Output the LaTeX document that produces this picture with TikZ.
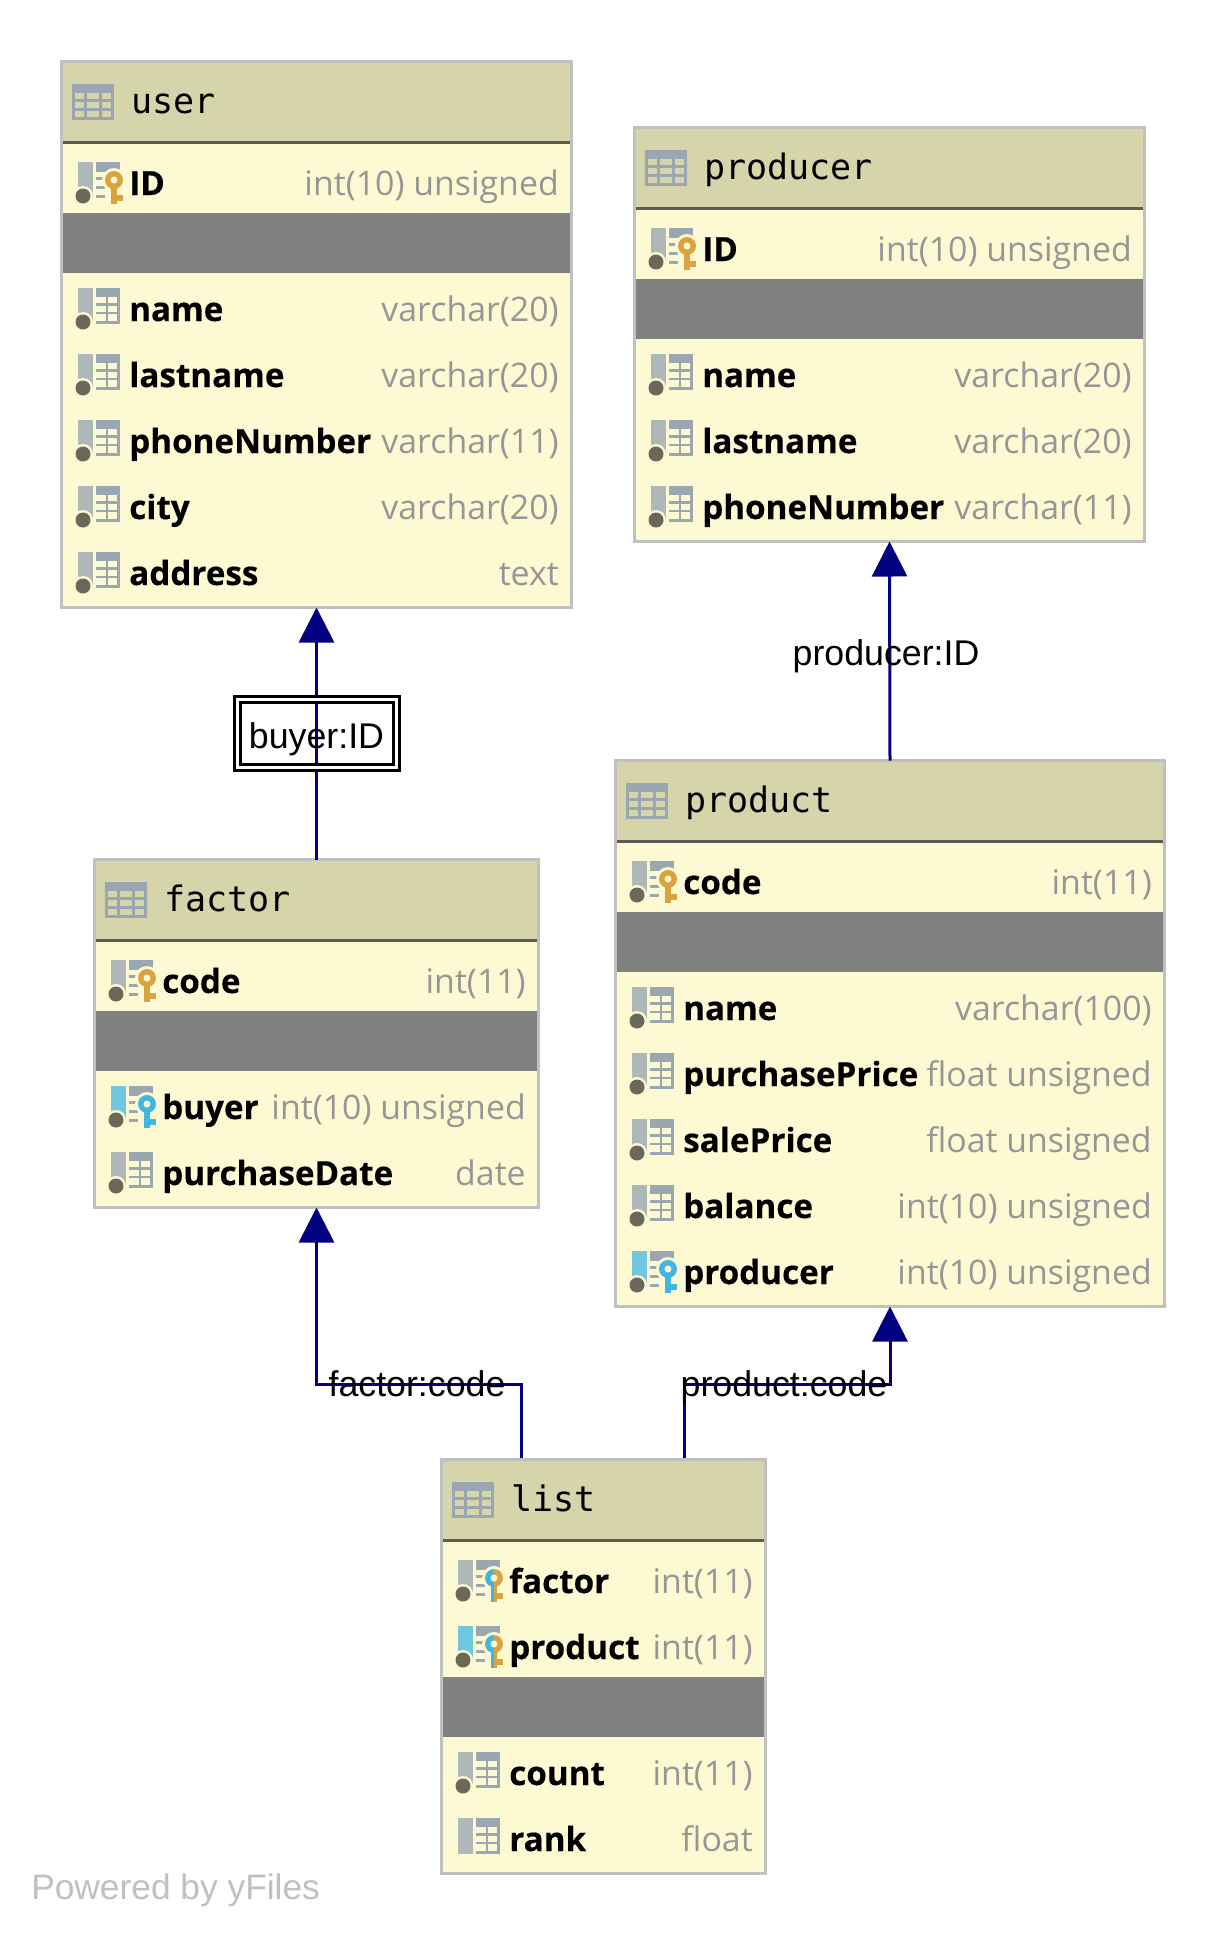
\documentclass[tikz,border=0pt]{standalone}
\usepackage{fontspec}
\setmainfont{Open Sans}
\newfontfamily\fname[BoldFeatures={FakeBold=0.35}]{Open Sans}
\newfontfamily\flabel{Liberation Sans}
\newfontfamily\ftitle{DejaVu Sans Mono}
\definecolor{cream}{RGB}{253,250,211}
\definecolor{headc}{RGB}{214,212,170}
\definecolor{edgec}{RGB}{192,192,192}
\definecolor{divc}{RGB}{92,92,82}
\definecolor{bandc}{RGB}{128,128,128}
\definecolor{iconc}{RGB}{155,167,176}
\definecolor{barc}{RGB}{174,184,184}
\definecolor{barf}{RGB}{112,200,222}
\definecolor{dotc}{RGB}{107,103,90}
\definecolor{goldc}{RGB}{219,163,63}
\definecolor{bluec}{RGB}{64,182,224}
\definecolor{typec}{RGB}{150,150,150}
\definecolor{navyc}{RGB}{0,0,128}
\definecolor{wmc}{RGB}{192,192,192}
\newcommand{\pxs}{0.75pt}
\usetikzlibrary{arrows.meta}
\tikzset{
  x=0.75pt,y=-0.75pt,
  tablebox/.style={draw=edgec,fill=cream,line width=3*\pxs,rectangle,inner sep=0pt,outer sep=0pt},
  titletext/.style={font=\ftitle\fontsize{26.25}{30}\selectfont,anchor=base west,inner sep=0pt,text=black},
  nametext/.style={font=\fname\bfseries\fontsize{24.9}{28}\selectfont,anchor=base west,inner sep=0pt,text=black},
  typetext/.style={font=\fname\fontsize{25.4}{28}\selectfont,anchor=base east,inner sep=0pt,text=typec},
  conn/.style={draw=navyc,line width=3*\pxs},
  connarrow/.style={conn,-{Triangle[length=35*\pxs,width=35*\pxs]}},
  linklabel/.style={font=\flabel\fontsize{26.8}{30}\selectfont,text=black,inner sep=0pt,text height=21.75pt,text depth=0pt},
  boxedlabel/.style={linklabel,draw=black,double=white,line width=3*\pxs,double distance=3*\pxs,minimum width=159*\pxs,minimum height=68*\pxs},
}
% table frame: name, left, right, top, bottom, title
\newcommand{\tableframe}[6]{%
  \def\TL{#2}\def\TR{#3}\def\TT{#4}\def\TB{#5}%
  \pgfmathsetmacro{\bw}{#3-#2-3}\pgfmathsetmacro{\bh}{#5-#4-3}%
  \node[tablebox,minimum width=\bw*\pxs,minimum height=\bh*\pxs] (#1) at ({(#2+#3)/2},{(#4+#5)/2}) {};
  \fill[headc] (#2+3,#4+3) rectangle (#3-3,#4+81);
  \fill[divc] (#2+3,#4+81) rectangle (#3-3,#4+84);
  % table icon
  \fill[iconc] (#2+12,#4+24) rectangle (#2+54,#4+60);
  \foreach \ya/\yb in {9/15,18/24,27/33}{
    \foreach \xa/\xb in {3/12,15/27,30/39}{
      \fill[headc] (#2+12+\xa,#4+24+\ya) rectangle (#2+12+\xb,#4+24+\yb);
    }
  }
  \node[titletext] (#1title) at (#2+71,#4+53.5) {#6};
}
\newcommand{\bandat}[1]{\fill[bandc] (\TL+3,#1) rectangle (\TR-3,#1+60);}
% column bar and dot: cy, colour, withdot(1/0)
\newcommand{\colbar}[3]{%
  \fill[#2] (\TL+18,#1-18) rectangle (\TL+33,#1+18);
  \ifnum#3=1
    \fill[cream] (\TL+23,#1+16) circle (10);
    \fill[dotc] (\TL+23,#1+16) circle (7.5);
  \fi
}
\newcommand{\gridglyph}[1]{%
  \fill[iconc] (\TL+36,#1-18) rectangle (\TL+60,#1+18);
  \foreach \ya/\yb in {-9/-3,0/6,8/14.5}{
    \fill[cream] (\TL+36,#1+\ya) rectangle (\TL+45.5,#1+\yb);
    \fill[cream] (\TL+48,#1+\ya) rectangle (\TL+57,#1+\yb);
  }
}
% key glyph: cy, left colour, right colour
\newcommand{\keyglyph}[3]{%
  \fill[iconc] (\TL+36,#1-18) rectangle (\TL+60,#1-8);
  \foreach \yy in {-3,6,15}{\fill[iconc] (\TL+36,#1+\yy) rectangle (\TL+45,#1+\yy+3);}
  \fill[cream] (\TL+54,#1) circle (12);
  \fill[cream] (\TL+48,#1) rectangle (\TL+66,#1+26);
  \fill[#2] (\TL+54,#1+9) arc (90:270:9) -- cycle;
  \fill[#3] (\TL+54,#1+9) arc (90:-90:9) -- cycle;
  \fill[#2] (\TL+51,#1+5) rectangle (\TL+54,#1+24);
  \fill[#3] (\TL+54,#1+5) rectangle (\TL+57,#1+24);
  \fill[#3] (\TL+57,#1+15) rectangle (\TL+63,#1+21);
  \fill[cream] (\TL+54,#1) circle (3.5);
}
% row: table name tag, row top, kind, field, type
\newcommand{\fieldtext}[4]{%
  \node[nametext] (#1n) at (\TL+69,#2+48) {#3};
  \node[typetext] (#1t) at (\TR-14,#2+48) {#4};
}
\newcommand{\plainrow}[4]{\colbar{#2+33}{barc}{1}\gridglyph{#2+33}\fieldtext{#1}{#2}{#3}{#4}}
\newcommand{\nodotrow}[4]{\colbar{#2+33}{barc}{0}\gridglyph{#2+33}\fieldtext{#1}{#2}{#3}{#4}}
\newcommand{\pkrow}[4]{\colbar{#2+33}{barc}{1}\keyglyph{#2+33}{goldc}{goldc}\fieldtext{#1}{#2}{#3}{#4}}
\newcommand{\fkrow}[4]{\colbar{#2+33}{barf}{1}\keyglyph{#2+33}{bluec}{bluec}\fieldtext{#1}{#2}{#3}{#4}}
\newcommand{\bothrow}[4]{\colbar{#2+33}{barc}{1}\keyglyph{#2+33}{bluec}{goldc}\fieldtext{#1}{#2}{#3}{#4}}
\newcommand{\bothfrow}[4]{\colbar{#2+33}{barf}{1}\keyglyph{#2+33}{bluec}{goldc}\fieldtext{#1}{#2}{#3}{#4}}
\begin{document}
\begin{tikzpicture}
\useasboundingbox (0,0) rectangle (1227,1935);
\fill[white] (0,0) rectangle (1227,1935);
% user
\tableframe{user}{60}{573}{60}{609}{user}
\pkrow{ua}{147}{ID}{int(10) unsigned}
\bandat{213}
\plainrow{ub}{273}{name}{varchar(20)}
\plainrow{uc}{339}{lastname}{varchar(20)}
\plainrow{ud}{405}{phoneNumber}{varchar(11)}
\plainrow{ue}{471}{city}{varchar(20)}
\plainrow{uf}{537}{address}{text}
% producer
\tableframe{producer}{633}{1146}{126}{543}{producer}
\pkrow{pa}{213}{ID}{int(10) unsigned}
\bandat{279}
\plainrow{pb}{339}{name}{varchar(20)}
\plainrow{pc}{405}{lastname}{varchar(20)}
\plainrow{pd}{471}{phoneNumber}{varchar(11)}
% product
\tableframe{product}{614}{1166}{759}{1308}{product}
\pkrow{ra}{846}{code}{int(11)}
\bandat{912}
\plainrow{rb}{972}{name}{varchar(100)}
\plainrow{rc}{1038}{purchasePrice}{float unsigned}
\plainrow{rd}{1104}{salePrice}{float unsigned}
\plainrow{re}{1170}{balance}{int(10) unsigned}
\fkrow{rf}{1236}{producer}{int(10) unsigned}
% factor
\tableframe{factor}{93}{540}{858}{1209}{factor}
\pkrow{fa}{945}{code}{int(11)}
\bandat{1011}
\fkrow{fb}{1071}{buyer}{int(10) unsigned}
\plainrow{fc}{1137}{purchaseDate}{date}
% list
\tableframe{list}{440}{767}{1458}{1875}{list}
\bothrow{la}{1545}{factor}{int(11)}
\bothfrow{lb}{1611}{product}{int(11)}
\bandat{1677}
\plainrow{lc}{1737}{count}{int(11)}
\nodotrow{ld}{1803}{rank}{float}
% connectors
\coordinate (lista) at (521,1458);
\coordinate (listb) at (684,1458);
\coordinate (factorjog) at (factor.south |- 0,1384);
\coordinate (productjog) at (product.south |- 0,1384);
\draw[connarrow] (factor.north) -- (user.south);
\draw[connarrow] (product.north) -- (producer.south);
\draw[connarrow] (lista) |- (factorjog) -- (factor.south);
\draw[connarrow] (listb) |- (productjog) -- (product.south);
\node[boxedlabel] (buyerlabel) at (316.5,733.5) {buyer:ID};
\node[linklabel] (producerlabel) at (886,651) {producer:ID};
\node[linklabel] (factorlabel) at (417,1381.5) {factor:code};
\node[linklabel] (productlabel) at (784,1381.5) {product:code};
\node[font=\flabel\fontsize{26.5}{30}\selectfont,text=wmc,anchor=west,inner sep=0pt] (powered) at (31,1890) {Powered by yFiles};
\end{tikzpicture}
\end{document}
